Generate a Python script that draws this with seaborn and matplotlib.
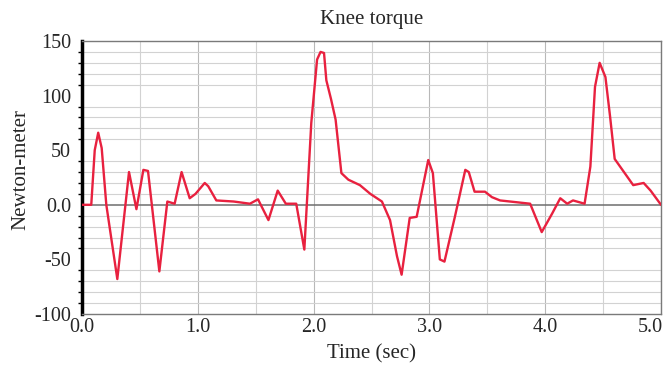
import pandas as pd
import numpy as np
import matplotlib
matplotlib.use('Agg')
import matplotlib.pyplot as plt
import matplotlib.transforms as mtransforms
import seaborn as sns

# ── Data (time in sec, torque in N·m) ───────────────────────────────────────
time_sec = [0.00, 0.08, 0.11, 0.14, 0.17, 0.21, 0.305, 0.406, 0.47, 0.53, 0.57,
            0.668, 0.737, 0.80, 0.86, 0.93, 0.98, 1.06, 1.09, 1.16, 1.31, 1.45,
            1.52, 1.61, 1.69, 1.76, 1.85, 1.92, 1.98, 2.03, 2.06, 2.09, 2.11,
            2.15, 2.19, 2.24, 2.30, 2.40, 2.49, 2.59, 2.66, 2.72, 2.76, 2.83,
            2.89, 2.99, 3.03, 3.09, 3.13, 3.22, 3.31, 3.34, 3.39, 3.48, 3.54,
            3.61, 3.87, 3.97, 4.06, 4.13, 4.19, 4.24, 4.34, 4.39, 4.43, 4.47,
            4.52, 4.56, 4.60, 4.68, 4.76, 4.85, 4.91, 5.00]
torque = [0, 0, 50, 66, 52, 0, -68, 30, -4, 32, 31,
          -61, 3, 1, 30, 6, 10, 20, 17, 4, 3, 1,
          5, -14, 13, 1, 1, -41, 75, 133, 140, 139, 114,
          97, 78, 29, 23, 18, 10, 3, -14, -47, -64, -12,
          -11, 41, 29, -50, -52, -11, 32, 30, 12, 12, 7,
          4, 1, -25, -8, 6, 1, 4, 1, 35, 108, 130,
          117, 81, 42, 30, 18, 20, 13, 0]

x_ticks = [0, 1, 2, 3, 4, 5]
x_tick_labels = ["0.0", "1.0", "2.0", "3.0", "4.0", "5.0"]
y_ticks = [-100, -50, 0, 50, 100, 150]
y_tick_labels = ["-100", "-50", "0.0", "50", "100", "150"]

df = pd.DataFrame({"t": time_sec, "torque": torque})

sns.set_style("white")
plt.rcParams['font.family'] = ['Liberation Serif', 'DejaVu Serif']

fig = plt.figure(figsize=(6.65, 3.65), dpi=100)
ax = fig.add_axes([0.1233, 0.1397, 0.8707, 0.748])

# grid: light lines every 10 N·m and every 0.5 s
ax.set_xticks(np.arange(0, 5.01, 0.5), minor=True)
ax.set_yticks(np.arange(-100, 151, 10), minor=True)
ax.grid(which="minor", color="#d2d2d2", linewidth=0.8)
ax.grid(which="major", axis="x", color="#b8b8b8", linewidth=0.8)
ax.axhline(0, color="#6e6e6e", linewidth=1.1, zorder=1.5)

sns.lineplot(data=df, x="t", y="torque", color="#e8213f", linewidth=1.7,
             ax=ax, zorder=3)

ax.set_xlim(0, 5)
ax.set_ylim(-100, 150)
ax.set_xticks(x_ticks)
ax.set_xticklabels(x_tick_labels)
ax.set_yticks(y_ticks)
ax.set_yticklabels(y_tick_labels)
ax.tick_params(axis="y", which="major", labelsize=14.5, length=0, pad=8)
ax.tick_params(axis="x", which="major", labelsize=14.5, length=0, pad=3)
ax.tick_params(axis="y", which="minor", direction="out", length=3, width=1,
               color="black", left=True)
ax.tick_params(axis="x", which="minor", length=0)

# last x label sits inside the figure, as in the reference
last = ax.get_xticklabels()[-1]
last.set_transform(last.get_transform() +
                   mtransforms.ScaledTranslation(-8 / 72, 0, fig.dpi_scale_trans))

for side in ["top", "right", "bottom"]:
    ax.spines[side].set_color("#7a7a7a")
    ax.spines[side].set_linewidth(1.0)
ax.spines["left"].set_color("black")
ax.spines["left"].set_linewidth(2.5)

ax.set_title("Knee torque", fontsize=15, pad=12)
ax.set_xlabel("Time (sec)", fontsize=15, labelpad=5)
ax.set_ylabel("Newton-meter", fontsize=15)
ax.yaxis.set_label_coords(-0.09, 0.53)

fig.savefig("out.png", dpi=100)
plt.close(fig)
